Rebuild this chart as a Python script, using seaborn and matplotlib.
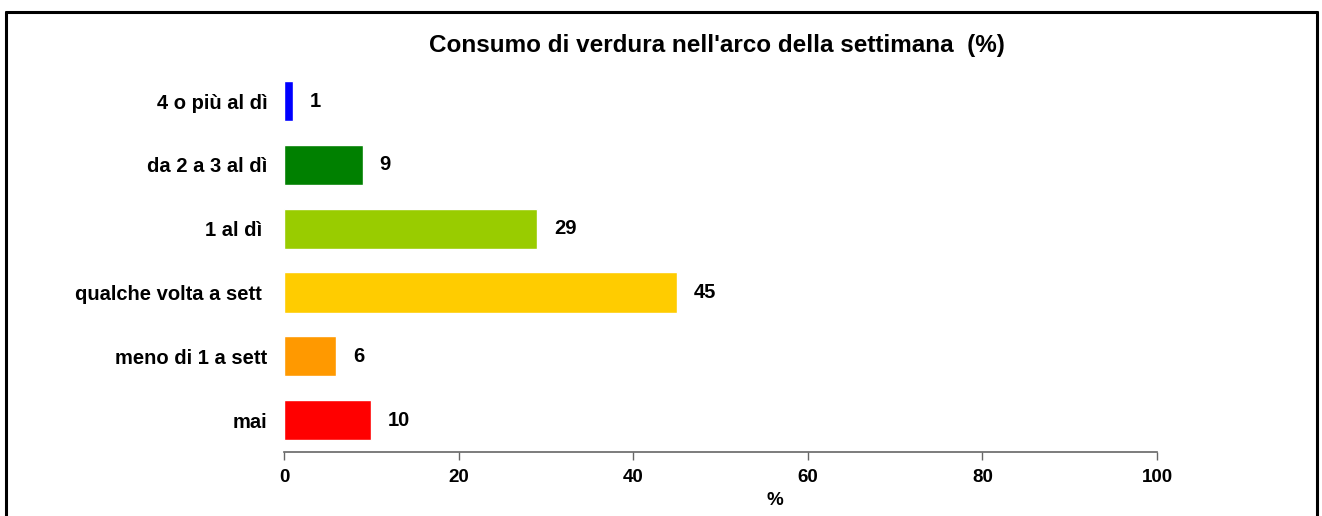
import pandas as pd
import matplotlib.pyplot as plt
import seaborn as sns
from matplotlib.lines import Line2D

# dati del grafico
categorie = ['4 o più al dì', 'da 2 a 3 al dì', '1 al dì ', 'qualche volta a sett ',
             'meno di 1 a sett', 'mai']
valori = [1, 9, 29, 45, 6, 10]
colori = ['#0000FF', '#008000', '#99CC00', '#FFCC00', '#FF9900', '#FF0000']
tick_x = [0, 20, 40, 60, 80, 100]

sns.set_style('white')
plt.rcParams['font.family'] = ['Liberation Sans', 'DejaVu Sans']
plt.rcParams['font.weight'] = 'bold'
plt.rcParams['text.color'] = 'black'
plt.rcParams['xtick.color'] = 'black'
plt.rcParams['ytick.color'] = 'black'
plt.rcParams['axes.labelcolor'] = 'black'

df = pd.DataFrame({'categoria': categorie, 'valore': valori})

fig = plt.figure(figsize=(13.22, 5.16), dpi=100)
ax = fig.add_axes([0.2148, 0.124, 0.8752 - 0.2148, 0.742])

sns.barplot(data=df, x='valore', y='categoria', hue='categoria', palette=colori,
            orient='h', width=0.63, legend=False, saturation=1, ax=ax)

for i, v in enumerate(valori):
    ax.annotate(f'{v}', xy=(v, i), xytext=(12, 0), textcoords='offset points',
                ha='left', va='center', fontsize=14.5, fontweight='bold', color='black')

ax.set_xlim(0, 100)
ax.set_ylim(5.5, -0.5)
ax.set_xticks(tick_x)
ax.set_xticklabels([str(t) for t in tick_x], fontsize=13.5, fontweight='bold')
ax.tick_params(axis='x', length=6, color='#666666', width=1, pad=6, direction='out', bottom=True)
ax.tick_params(axis='y', length=0, pad=12, labelsize=14.5)
for lab in ax.get_yticklabels():
    lab.set_fontweight('bold')
ax.set_xlabel('%', fontsize=13.5, fontweight='bold')
ax.xaxis.set_label_coords(0.5624, -0.105)
ax.set_ylabel('')
for s in ['left', 'right', 'top']:
    ax.spines[s].set_visible(False)
ax.spines['bottom'].set_color('#666666')
ax.spines['bottom'].set_linewidth(1.2)

fig.suptitle("Consumo di verdura nell'arco della settimana  (%)", x=0.5425, y=0.935,
             fontsize=17.5, fontweight='bold')

# cornice esterna (il lato inferiore esce dall'immagine)
W, H = 1322, 516
x0, x1, y0 = 6 / W, 1317 / W, 1 - 12 / H
for xs, ys in [([x0, x1], [y0, y0]), ([x0, x0], [y0, -0.1]), ([x1, x1], [y0, -0.1])]:
    fig.add_artist(Line2D(xs, ys, transform=fig.transFigure, color='black', linewidth=2.2))

fig.savefig('out.png', dpi=100)
